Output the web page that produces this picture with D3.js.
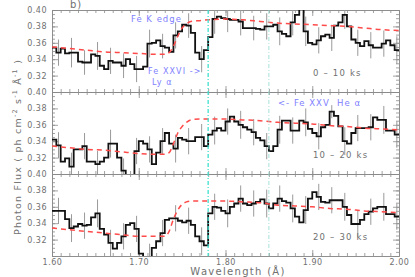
<!DOCTYPE html>
<html><head><meta charset="utf-8">
<script src="https://cdn.jsdelivr.net/npm/d3@7"></script>
<style>
html,body{margin:0;padding:0;background:#fff;}
svg{display:block;}
text{font-family:"DejaVu Sans",sans-serif;}
</style></head>
<body>
<svg id="c" width="415" height="277"></svg>
<script>
// ---------------- DATA ----------------
const binStart = 1.60, binWidth = 0.005, nBins = 80;
const xTicks = [1.60, 1.70, 1.80, 1.90, 2.00];
const xTickLabels = ["1.60", "1.70", "1.80", "1.90", "2.00"];
const yTicks = [0.32, 0.34, 0.36, 0.38, 0.40];
const yTickLabels = ["0.32", "0.34", "0.36", "0.38", "0.40"];
const panelLabels = ["0 \u2013 10 ks", "10 \u2013 20 ks", "20 \u2013 30 ks"];

const fluxTop = [
 0.354,0.348,0.353,0.347,0.348,0.348,0.337,0.336,0.336,0.346,
 0.344,0.332,0.328,0.338,0.336,0.336,0.332,0.340,0.334,0.328,
 0.328,0.331,0.359,0.360,0.363,0.356,0.354,0.349,0.369,0.374,
 0.382,0.381,0.372,0.348,0.340,0.351,0.367,0.389,0.392,0.390,
 0.389,0.388,0.388,0.386,0.378,0.378,0.378,0.377,0.376,0.380,
 0.380,0.382,0.374,0.371,0.368,0.385,0.394,0.403,0.374,0.360,
 0.358,0.363,0.368,0.370,0.366,0.381,0.385,0.394,0.380,0.364,
 0.360,0.356,0.362,0.357,0.354,0.354,0.359,0.363,0.357,0.351];
const fluxMid = [
 0.342,0.335,0.315,0.319,0.309,0.330,0.330,0.334,0.315,0.315,
 0.312,0.315,0.320,0.337,0.337,0.320,0.304,0.297,0.297,0.328,
 0.340,0.337,0.330,0.312,0.326,0.340,0.350,0.337,0.331,0.344,
 0.342,0.340,0.340,0.345,0.345,0.334,0.348,0.353,0.356,0.353,
 0.364,0.370,0.364,0.360,0.357,0.354,0.351,0.344,0.341,0.334,
 0.328,0.334,0.354,0.365,0.365,0.353,0.353,0.365,0.363,0.355,
 0.350,0.346,0.357,0.360,0.376,0.371,0.358,0.340,0.337,0.350,
 0.356,0.356,0.356,0.357,0.369,0.366,0.366,0.353,0.353,0.348];
const fluxBot = [
 0.355,0.355,0.355,0.345,0.334,0.336,0.339,0.337,0.338,0.347,
 0.352,0.333,0.326,0.316,0.309,0.316,0.324,0.338,0.340,0.333,
 0.303,0.298,0.298,0.310,0.318,0.328,0.344,0.346,0.346,0.343,
 0.341,0.343,0.338,0.324,0.318,0.313,0.352,0.360,0.359,0.355,
 0.352,0.360,0.364,0.370,0.364,0.362,0.364,0.366,0.369,0.364,
 0.358,0.364,0.370,0.367,0.365,0.358,0.348,0.341,0.356,0.370,
 0.378,0.372,0.366,0.365,0.368,0.368,0.368,0.360,0.350,0.339,
 0.339,0.344,0.351,0.354,0.358,0.360,0.360,0.351,0.351,0.348];

// error bars: every third bin (bin 1, 4, 7, ...) with half-lengths
const errEvery = 3, errFirst = 1;
const errTop = [0.016,0.018,0.015,0.017,0.016,0.015,0.016,0.017,0.015,0.016,0.015,0.016,0.018,0.016,0.017,0.015,0.016,0.017,0.016,0.018,0.016,0.016,0.017,0.016,0.016,0.016,0.017];
const errMid = [0.016,0.017,0.016,0.016,0.017,0.015,0.016,0.016,0.016,0.017,0.016,0.016,0.017,0.016,0.017,0.016,0.016,0.017,0.016,0.017,0.016,0.008,0.017,0.016,0.016,0.017,0.016];
const errBot = [0.016,0.017,0.016,0.017,0.016,0.016,0.016,0.017,0.016,0.016,0.016,0.017,0.016,0.017,0.016,0.016,0.017,0.016,0.017,0.017,0.016,0.016,0.017,0.016,0.016,0.017,0.016];

// model (red dashed)
const modelWl  = [1.60,1.62,1.64,1.66,1.68,1.70,1.72,1.73,1.735,1.74,1.745,1.75,1.755,1.76,1.77,1.78,1.80,1.82,1.84,1.86,1.88,1.90,1.92,1.94,1.96,1.98,2.00];
const modelTop = [0.355,0.353,0.351,0.349,0.348,0.347,0.346,0.346,0.348,0.356,0.368,0.378,0.383,0.386,0.387,0.388,0.389,0.388,0.386,0.384,0.383,0.382,0.381,0.380,0.378,0.376,0.375];
const modelMid = [0.334,0.332,0.330,0.329,0.327,0.325,0.324,0.324,0.326,0.337,0.350,0.358,0.363,0.366,0.367,0.367,0.367,0.366,0.365,0.363,0.362,0.361,0.359,0.358,0.356,0.355,0.354];
const modelBot = [0.334,0.332,0.330,0.328,0.326,0.324,0.324,0.324,0.330,0.345,0.356,0.363,0.366,0.367,0.367,0.367,0.367,0.366,0.365,0.362,0.361,0.360,0.358,0.357,0.355,0.354,0.353];

const edgeLines = [1.78, 1.85];

// ---------------- LAYOUT ----------------
const svg = d3.select("#c");
const L = 52, R = 399, T = 10, PH = 82;
const x = d3.scaleLinear().domain([1.60, 2.00]).range([L, R]);
const axisCol = "#8a8a8a", textCol = "#707070", annCol = "#8080ff";

const panels = [
  {flux: fluxTop, err: errTop, model: modelTop, label: panelLabels[0]},
  {flux: fluxMid, err: errMid, model: modelMid, label: panelLabels[1]},
  {flux: fluxBot, err: errBot, model: modelBot, label: panelLabels[2]}
];

const defs = svg.append("defs");
const majorX = xTicks.slice();
const minorX = d3.range(0, 41).map(i => 1.60 + i * 0.01);
const minorY = d3.range(0, 21).map(i => 0.30 + i * 0.005);
const majorY = [0.30].concat(yTicks);

panels.forEach((p, k) => {
  const top = T + k * PH, bot = top + PH;
  const y = d3.scaleLinear().domain([0.30, 0.40]).range([bot, top]);
  const g = svg.append("g");
  defs.append("clipPath").attr("id", "cp" + k)
    .append("rect").attr("x", L).attr("y", top).attr("width", R - L).attr("height", PH);

  const mk = (axisFn, scale, vals, size) => axisFn(scale).tickValues(vals).tickSize(size).tickSizeOuter(0).tickFormat("");
  const ax = [];
  ax.push(g.append("g").attr("transform", `translate(0,${bot})`).call(mk(d3.axisBottom, x, minorX, -3)));
  ax.push(g.append("g").attr("transform", `translate(0,${bot})`).call(mk(d3.axisBottom, x, majorX, -6)));
  ax.push(g.append("g").attr("transform", `translate(0,${top})`).call(mk(d3.axisTop, x, minorX, -3)));
  ax.push(g.append("g").attr("transform", `translate(0,${top})`).call(mk(d3.axisTop, x, majorX, -6)));
  ax.push(g.append("g").attr("transform", `translate(${L},0)`).call(mk(d3.axisLeft, y, minorY, -3)));
  ax.push(g.append("g").attr("transform", `translate(${L},0)`).call(mk(d3.axisLeft, y, majorY, -6)));
  ax.push(g.append("g").attr("transform", `translate(${R},0)`).call(mk(d3.axisRight, y, minorY, -3)));
  ax.push(g.append("g").attr("transform", `translate(${R},0)`).call(mk(d3.axisRight, y, majorY, -6)));
  ax.forEach(a => { a.selectAll("path,line").attr("stroke", axisCol).attr("stroke-width", 0.8); });

  const yl = g.append("g").attr("transform", `translate(${L},0)`)
    .call(d3.axisLeft(y).tickValues(yTicks).tickSize(0).tickPadding(5)
      .tickFormat((d, i) => yTickLabels[i]));
  yl.select(".domain").remove();
  yl.selectAll("text").attr("fill", textCol).attr("font-size", 8)
    .attr("font-family", "DejaVu Sans").attr("letter-spacing", 0.5);

  if (k === 2) {
    const xl = g.append("g").attr("transform", `translate(0,${bot})`)
      .call(d3.axisBottom(x).tickValues(xTicks).tickSize(0).tickPadding(3)
        .tickFormat((d, i) => xTickLabels[i]));
    xl.select(".domain").remove();
    xl.selectAll("text").attr("fill", textCol).attr("font-size", 8)
      .attr("font-family", "DejaVu Sans").attr("letter-spacing", 0.5);
  }

  const cg = g.append("g").attr("clip-path", `url(#cp${k})`);

  const errData = p.err.map((e, j) => {
    const bi = errFirst + j * errEvery;
    return {wl: binStart + binWidth * (bi + 0.5), v: p.flux[bi], e: e};
  });
  cg.selectAll("line.err").data(errData).enter().append("line")
    .attr("x1", d => x(d.wl)).attr("x2", d => x(d.wl))
    .attr("y1", d => y(d.v - d.e)).attr("y2", d => y(d.v + d.e))
    .attr("stroke", "#9a9a9a").attr("stroke-width", 1);

  const pts = p.flux.map((v, i) => [binStart + binWidth * i, v]);
  pts.push([binStart + binWidth * nBins, p.flux[nBins - 1]]);
  cg.append("path").datum(pts)
    .attr("d", d3.line().x(d => x(d[0])).y(d => y(d[1])).curve(d3.curveStepAfter))
    .attr("fill", "none").attr("stroke", "#111").attr("stroke-width", 1.8);

  cg.append("path").datum(modelWl.map((w, i) => [w, p.model[i]]))
    .attr("d", d3.line().x(d => x(d[0])).y(d => y(d[1])).curve(d3.curveMonotoneX))
    .attr("fill", "none").attr("stroke", "#ff4a4a").attr("stroke-width", 1.5)
    .attr("stroke-dasharray", "5,4");

  g.append("text").attr("x", 313).attr("y", top + 66).text(p.label)
    .attr("fill", textCol).attr("font-size", 8.5).attr("letter-spacing", 1.2);
});

edgeLines.forEach((w, i) => {
  svg.append("line").attr("x1", x(w)).attr("x2", x(w)).attr("y1", T).attr("y2", T + 3 * PH)
    .attr("stroke", i === 0 ? "#3fe0d0" : "#8fd8d0").attr("stroke-width", i === 0 ? 1.3 : 0.8)
    .attr("stroke-dasharray", "4,2,1,2");
});

svg.append("text").attr("x", 131).attr("y", 22).text("Fe K edge")
  .attr("fill", annCol).attr("font-size", 8.5).attr("letter-spacing", 1);
svg.append("text").attr("x", 148).attr("y", 74).text("Fe XXVI ->")
  .attr("fill", annCol).attr("font-size", 8).attr("letter-spacing", 1.1);
svg.append("text").attr("x", 152).attr("y", 85).text("Ly \u03b1")
  .attr("fill", annCol).attr("font-size", 8).attr("letter-spacing", 1.1);
svg.append("text").attr("x", 278).attr("y", 106).text("<- Fe XXV  He \u03b1")
  .attr("fill", annCol).attr("font-size", 8.5).attr("letter-spacing", 1)
  .style("white-space", "pre");

svg.append("text").attr("x", 70).attr("y", 8).text("b)")
  .attr("fill", textCol).attr("font-size", 10).attr("letter-spacing", 1);
svg.append("text").attr("x", 238).attr("y", 275).attr("text-anchor", "middle")
  .text("Wavelength (\u00c5)").attr("fill", textCol).attr("font-size", 10).attr("letter-spacing", 1.3);

const yt = svg.append("text").attr("transform", "translate(21,147) rotate(-90)")
  .attr("text-anchor", "middle").attr("fill", textCol).attr("font-size", 9.5).attr("letter-spacing", 1.2);
yt.append("tspan").text("Photon Flux ( ph cm");
yt.append("tspan").text("-2").attr("font-size", 6.5).attr("dy", -4);
yt.append("tspan").text(" s").attr("dy", 4);
yt.append("tspan").text("-1").attr("font-size", 6.5).attr("dy", -4);
yt.append("tspan").text(" \u00c5").attr("dy", 4);
yt.append("tspan").text("-1").attr("font-size", 6.5).attr("dy", -4);
yt.append("tspan").text(" )").attr("dy", 4);
</script>
</body></html>
